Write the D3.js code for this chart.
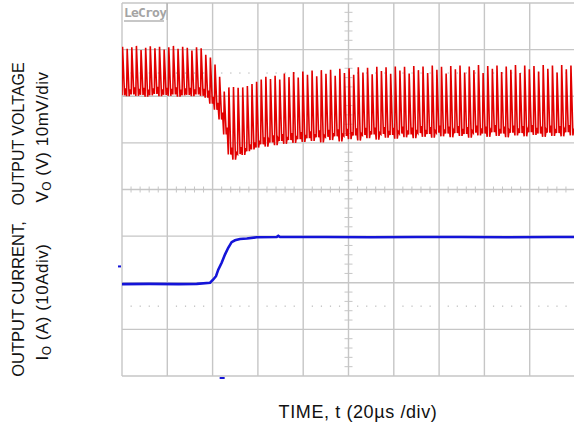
<!DOCTYPE html>
<html>
<head>
<meta charset="utf-8">
<script src="https://cdn.jsdelivr.net/npm/d3@7"></script>
<style>
    body { margin: 0; background: #fff; }
    .gridLine { stroke: #c6c6c6; stroke-width: 1.4; fill: none; }
    .minorTick { stroke: #c6c6c6; stroke-width: 1; }
    .label { font-family: "Liberation Sans", Arial, sans-serif; fill: #111; }
</style>
</head>
<body>
<script>
//scope shot: output voltage ripple (top) and load current step (bottom)

(function(){

//axis ranges, one screen is 10 x 8 divisions
var timeRange = [0, 200];      //us, 20us/div
var voltRange = [-20, 20];     //mV, 10mV/div, upper half of screen
var currRange = [-20, 20];     //A, 10A/div, lower half of screen

//ripple of the output voltage, one value per switching cycle (mV)
var vPeak = [10.6, 10.2, 10.5, 10.8, 9.9, 10.4, 10.7, 10.3, 10.6, 10.0, 10.5, 10.8, 10.2, 10.6, 10.4, 9.8, 10.5, 10.3,
    8.9, 8.3, 6.8, 4.2, 1.0, 1.9, 2.0, 1.8, 1.9, 2.2, 2.6, 3.1, 3.6, 4.2, 3.7,
    4.4, 3.6, 4.9, 4.1, 5.2, 4.0, 5.3, 4.6, 5.5, 4.3, 5.6, 4.8, 5.7, 4.4, 5.9, 5.0, 6.0, 4.6, 6.2, 5.1, 6.1, 4.7,
    6.3, 5.4, 6.2, 4.8, 6.4, 5.5, 6.3, 4.9, 6.5, 5.6, 6.4, 5.0, 6.6, 5.7, 6.3, 4.9, 6.5, 5.8, 6.6, 5.1, 6.4, 5.6,
    6.7, 5.0, 6.5, 5.9, 6.6, 5.2, 6.4, 5.7, 6.7, 5.0, 6.6, 5.8, 6.5, 5.3, 6.7, 5.9, 6.6, 5.1, 6.7, 5.8, 6.6];
var vTrough = [0.2, 0.0, 0.4, 0.1, 0.3, -0.1, 0.2, 0.5, 0.0, 0.3, 0.1, 0.4, -0.1, 0.2, 0.3, 0.0, 0.4, 0.1,
    -0.3, -1.6, -2.9, -5.0, -8.2, -12.5, -13.6, -12.4, -12.6, -11.8, -11.4, -11.0, -10.3, -10.8, -9.9,
    -10.5, -9.6, -10.2, -9.4, -10.0, -9.2, -9.8, -9.0, -9.6, -8.8, -9.9, -8.7, -9.4, -8.6, -9.7, -8.5, -9.2, -8.4,
    -9.5, -8.3, -9.0, -8.2, -9.3, -8.1, -8.9, -8.3, -9.1, -8.0, -8.8, -8.2, -9.0, -7.9, -8.7, -8.1, -8.9, -7.8,
    -8.6, -8.0, -8.8, -7.9, -8.5, -8.1, -8.9, -7.8, -8.4, -8.0, -8.7, -7.7, -8.5, -8.0, -8.8, -7.8, -8.4, -7.9,
    -8.6, -7.7, -8.3, -8.0, -8.7, -7.8, -8.5, -7.9, -8.6, -7.7, -8.4];

//load current trace (time in us, current in A)
var currTime = [0, 12, 25, 33, 38.9, 40.3, 41.5, 42.5, 44.0, 45.5, 46.9, 48.4, 49.9, 52.1, 55.1, 59.5, 68.3, 69.0, 69.8, 90, 110, 130, 150, 170, 190, 200];
var currAmps = [-0.3, -0.25, -0.3, -0.25, 0.0, 0.7, 1.4, 2.8, 4.3, 6.1, 7.5, 8.7, 9.1, 9.4, 9.5, 9.75, 9.8, 10.05, 9.8, 9.8, 9.75, 9.8, 9.8, 9.75, 9.8, 9.8];

window.onload = setChart;

function setChart(){
    var width = 574,
        height = 428,
        left = 122,
        right = 575,
        top = 3,
        bottom = 376,
        mid = (top + bottom) / 2;

    var svg = d3.select("body")
        .append("svg")
        .attr("width", width)
        .attr("height", height);

    var x = d3.scaleLinear().domain(timeRange).range([left, right]);
    var yV = d3.scaleLinear().domain(voltRange).range([mid, top]);
    var yI = d3.scaleLinear().domain(currRange).range([bottom, mid]);

    svg.append("clipPath")
        .attr("id", "plotClip")
        .append("rect")
        .attr("x", left)
        .attr("y", top)
        .attr("width", right - left)
        .attr("height", bottom - top);

    drawGrid(svg, left, right, top, bottom);

    //voltage trace: fast rise to the peak, fall back to the trough each cycle
    var period = (timeRange[1] - timeRange[0]) / vPeak.length;
    var vPoints = [];
    vPeak.forEach(function(p, i){
        var t0 = timeRange[0] + i * period;
        vPoints.push([t0, vTrough[i]]);
        vPoints.push([t0 + period * 0.12, p]);
        vPoints.push([t0 + period * 0.55, vTrough[i]]);
        vPoints.push([t0 + period * 0.75, vTrough[i] + 1.5]);
    });

    var vLine = d3.line()
        .x(function(d){ return x(d[0]); })
        .y(function(d){ return yV(d[1]); });

    svg.append("path")
        .datum(vPoints)
        .attr("clip-path", "url(#plotClip)")
        .attr("d", vLine)
        .style("fill", "none")
        .style("stroke", "#e20000")
        .style("stroke-width", 1.6);

    //current trace
    var iLine = d3.line()
        .x(function(d, i){ return x(currTime[i]); })
        .y(function(d){ return yI(d); });

    svg.append("path")
        .datum(currAmps)
        .attr("clip-path", "url(#plotClip)")
        .attr("d", iLine)
        .style("fill", "none")
        .style("stroke", "#1414d8")
        .style("stroke-width", 2.6);

    //ground marker of the current channel and the trigger marker
    svg.append("rect")
        .attr("x", 118)
        .attr("y", yI(3.5) - 1)
        .attr("width", 3)
        .attr("height", 2)
        .style("fill", "#1414d8");
    svg.append("rect")
        .attr("x", x(44) - 2)
        .attr("y", bottom + 1)
        .attr("width", 5)
        .attr("height", 2)
        .style("fill", "#1414d8");

    //LeCroy logo
    svg.append("text")
        .attr("x", left + 2)
        .attr("y", 17)
        .style("font-family", "DejaVu Sans Mono, monospace")
        .style("font-weight", "bold")
        .style("font-size", "13px")
        .style("fill", "#a4a4a4")
        .style("letter-spacing", "-0.8px")
        .text("LeCroy");
    svg.append("line")
        .attr("x1", left + 2).attr("x2", 164)
        .attr("y1", 21).attr("y2", 21)
        .style("stroke", "#b4b4b4")
        .style("stroke-width", 1.5);
    svg.append("line")
        .attr("x1", 167).attr("x2", 167)
        .attr("y1", top).attr("y2", 20)
        .style("stroke", "#b4b4b4")
        .style("stroke-width", 1.2);

    setLabels(svg);
}

//graticule with the centre-line ticks and dotted marks
function drawGrid(svg, left, right, top, bottom){
    var xDiv = (right - left) / 10,
        yDiv = (bottom - top) / 8,
        cx = left + 5 * xDiv,
        cy = top + 4 * yDiv;

    var g = svg.append("g");

    g.selectAll(".vGrid")
        .data(d3.range(0, 11))
        .enter()
        .append("line")
        .attr("class", "gridLine")
        .attr("x1", function(d){ return left + d * xDiv; })
        .attr("x2", function(d){ return left + d * xDiv; })
        .attr("y1", top)
        .attr("y2", bottom);

    g.selectAll(".hGrid")
        .data(d3.range(0, 9))
        .enter()
        .append("line")
        .attr("class", "gridLine")
        .attr("x1", left)
        .attr("x2", right)
        .attr("y1", function(d){ return top + d * yDiv; })
        .attr("y2", function(d){ return top + d * yDiv; });

    //minor ticks, 5 per division
    var xMinor = d3.range(0, 50).filter(function(d){ return d % 5 !== 0; });
    var yMinor = d3.range(0, 40).filter(function(d){ return d % 5 !== 0; });

    g.selectAll(".xTick")
        .data(xMinor)
        .enter()
        .append("line")
        .attr("class", "minorTick")
        .attr("x1", function(d){ return left + d * xDiv / 5; })
        .attr("x2", function(d){ return left + d * xDiv / 5; })
        .attr("y1", cy - 3)
        .attr("y2", cy + 3);

    g.selectAll(".yTick")
        .data(yMinor)
        .enter()
        .append("line")
        .attr("class", "minorTick")
        .attr("x1", cx - 4)
        .attr("x2", cx + 4)
        .attr("y1", function(d){ return top + d * yDiv / 5; })
        .attr("y2", function(d){ return top + d * yDiv / 5; });

    //dotted rows
    [top + 1.5 * yDiv, top + 6.5 * yDiv].forEach(function(yy){
        g.selectAll(null)
            .data(xMinor)
            .enter()
            .append("rect")
            .attr("x", function(d){ return left + d * xDiv / 5 - 0.5; })
            .attr("y", yy - 0.5)
            .attr("width", 1.2)
            .attr("height", 1.2)
            .style("fill", "#b8b8b8");
    });
}

function setLabels(svg){
    svg.append("text")
        .attr("class", "label")
        .attr("transform", "translate(24,134) rotate(-90)")
        .attr("text-anchor", "middle")
        .style("font-size", "16px")
        .text("OUTPUT VOLTAGE");

    var v = svg.append("text")
        .attr("class", "label")
        .attr("transform", "translate(48,137) rotate(-90)")
        .attr("text-anchor", "middle")
        .style("font-size", "17px")
        .style("letter-spacing", "0.5px");
    v.append("tspan").text("V");
    v.append("tspan").attr("dy", 3).style("font-size", "12px").text("O");
    v.append("tspan").attr("dy", -3).text(" (V) 10mV/div");

    svg.append("text")
        .attr("class", "label")
        .attr("transform", "translate(24,299) rotate(-90)")
        .attr("text-anchor", "middle")
        .style("font-size", "16.5px")
        .text("OUTPUT CURRENT,");

    var c = svg.append("text")
        .attr("class", "label")
        .attr("transform", "translate(48,302) rotate(-90)")
        .attr("text-anchor", "middle")
        .style("font-size", "17px")
        .style("letter-spacing", "0.5px");
    c.append("tspan").text("I");
    c.append("tspan").attr("dy", 3).style("font-size", "12px").text("O");
    c.append("tspan").attr("dy", -3).text(" (A)  (10Adiv)");

    svg.append("text")
        .attr("class", "label")
        .attr("x", 358)
        .attr("y", 418)
        .attr("text-anchor", "middle")
        .style("font-size", "18px")
        .style("letter-spacing", "0.6px")
        .text("TIME, t (20\u00b5s /div)");
}

})();
</script>
</body>
</html>
